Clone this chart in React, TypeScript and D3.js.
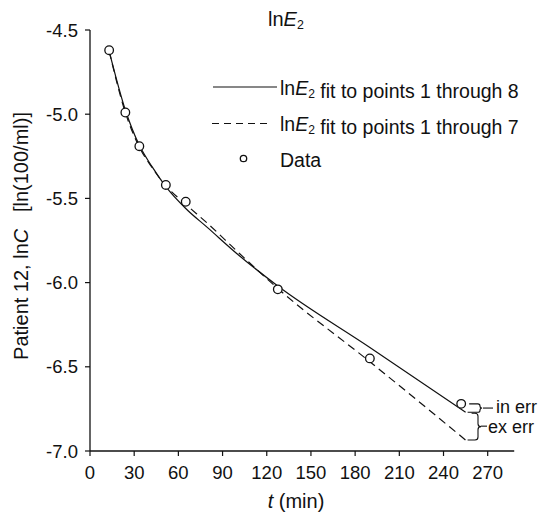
import React from "react";
import * as d3 from "d3";

const dataT = [13, 24, 33.5, 51.5, 65, 127.5, 190, 252];
const dataY = [-4.62, -4.99, -5.19, -5.42, -5.52, -6.04, -6.45, -6.72];

const fitT = [13, 24, 33.5, 42, 51.5, 65, 80, 100, 127.5, 190, 255];
const fit8Y = [-4.625, -4.975, -5.185, -5.31, -5.43, -5.56, -5.675, -5.83, -6.02, -6.385, -6.77];
const fit7Y = [-4.625, -4.99, -5.195, -5.315, -5.425, -5.535, -5.65, -5.815, -6.035, -6.47, -6.935];

const xTicks = [0, 30, 60, 90, 120, 150, 180, 210, 240, 270];
const yTicks = [-4.5, -5.0, -5.5, -6.0, -6.5, -7.0];

const FONT = "'Liberation Sans', Arial, Helvetica, sans-serif";

export default function App() {
  const W = 546, H = 512;
  const x = d3.scaleLinear().domain([0, 270]).range([90, 487.7]);
  const y = d3.scaleLinear().domain([-7, -4.5]).range([451, 30]);
  const xEnd = x(288);

  const line = d3
    .line<number>()
    .x((_, i) => x(fitT[i]))
    .y((d) => y(d))
    .curve(d3.curveMonotoneX);

  const lastP = { x: x(dataT[7]), y: y(dataY[7]) };
  const end8 = { x: x(fitT[fitT.length - 1]), y: y(fit8Y[fit8Y.length - 1]) };
  const end7 = { x: x(fitT[fitT.length - 1]), y: y(fit7Y[fit7Y.length - 1]) };

  // curly brace opening to the left, tip to the right
  const brace = (xl1: number, y1: number, xl2: number, y2: number, xv: number) => {
    const ym = (y1 + y2) / 2;
    const r = Math.min(3, (y2 - y1) / 4);
    return `M${xl1},${y1} H${xv - r} Q${xv},${y1} ${xv},${y1 + r} V${ym - r} Q${xv},${ym} ${xv + r},${ym} Q${xv},${ym} ${xv},${ym + r} V${y2 - r} Q${xv},${y2} ${xv - r},${y2} H${xl2}`;
  };
  const inMid = (lastP.y + end8.y) / 2;
  const exMid = (end8.y + end7.y) / 2;

  const sub = (base: string, it: string, s: string, size: number) => (
    <>
      {base}
      <tspan fontStyle="italic">{it}</tspan>
      <tspan fontSize={size * 0.62} dy={3}>{s}</tspan>
      <tspan dy={-3}></tspan>
    </>
  );

  return (
    <svg
      width={W}
      height={H}
      style={{ position: "absolute", left: 0, top: 0, background: "#fff" }}
      fontFamily={FONT}
    >
      <rect x={0} y={0} width={W} height={H} fill="#fff" />
      {/* axes */}
      <line x1={90} x2={90} y1={y(-4.5)} y2={y(-7)} stroke="#111" strokeWidth={1.3} />
      <line x1={90} x2={xEnd} y1={y(-7)} y2={y(-7)} stroke="#111" strokeWidth={1.3} />
      {xTicks.map((t) => (
        <g key={t}>
          <line x1={x(t)} x2={x(t)} y1={y(-7)} y2={y(-7) + 5} stroke="#111" strokeWidth={1.2} />
          <text x={x(t)} y={479} textAnchor="middle" fontSize={18.5} fill="#111">
            {t}
          </text>
        </g>
      ))}
      {yTicks.map((v) => (
        <g key={v}>
          <line x1={85} x2={90} y1={y(v)} y2={y(v)} stroke="#111" strokeWidth={1.2} />
          <text x={78} y={y(v) + 6.5} textAnchor="end" fontSize={18.5} fill="#111">
            {v.toFixed(1)}
          </text>
        </g>
      ))}
      {/* axis titles */}
      <text x={296} y={508} textAnchor="middle" fontSize={20} fill="#111">
        <tspan fontStyle="italic">t</tspan> (min)
      </text>
      <text
        transform={`translate(28,236) rotate(-90)`}
        textAnchor="middle"
        fontSize={20}
        fill="#111"
        xmlSpace="preserve"
      >
        Patient 12, ln<tspan fontStyle="italic">C</tspan>{"   "}[ln(100/ml)]
      </text>
      {/* title */}
      <text x={268} y={26} fontSize={20} fill="#111">
        {sub("ln", "E", "2", 20)}
      </text>
      {/* fits */}
      <path d={line(fit8Y) || ""} fill="none" stroke="#111" strokeWidth={1.2} />
      <path d={line(fit7Y) || ""} fill="none" stroke="#111" strokeWidth={1.2} strokeDasharray="8,5" />
      {/* data */}
      {dataT.map((t, i) => (
        <circle key={i} cx={x(t)} cy={y(dataY[i])} r={4.3} fill="#fff" stroke="#111" strokeWidth={1.3} />
      ))}
      {/* legend */}
      <line x1={213} x2={277} y1={87} y2={87} stroke="#111" strokeWidth={1.2} />
      <text x={280} y={95} fontSize={19.5} fill="#111">
        {sub("ln", "E", "2", 19.5)} fit to points 1 through 8
      </text>
      <line x1={212} x2={270} y1={123.5} y2={123.5} stroke="#111" strokeWidth={1.2} strokeDasharray="7,5" />
      <text x={280} y={131} fontSize={19.5} fill="#111">
        {sub("ln", "E", "2", 19.5)} fit to points 1 through 7
      </text>
      <circle cx={243.5} cy={158.5} r={3.2} fill="#fff" stroke="#111" strokeWidth={1.3} />
      <text x={280} y={166.5} fontSize={19.5} fill="#111">
        Data
      </text>
      {/* error braces */}
      <path d={brace(lastP.x + 8, lastP.y, end8.x + 2, end8.y, 480)} fill="none" stroke="#111" strokeWidth={1.1} />
      <line x1={483} x2={493} y1={inMid} y2={inMid} stroke="#111" strokeWidth={1.1} />
      <text x={496} y={inMid + 5} fontSize={18} fill="#111">
        in err
      </text>
      <path d={brace(end8.x + 6, end8.y + 1, end7.x + 2, end7.y, 478)} fill="none" stroke="#111" strokeWidth={1.1} />
      <line x1={481} x2={487} y1={exMid} y2={exMid} stroke="#111" strokeWidth={1.1} />
      <text x={488} y={exMid + 7} fontSize={18} fill="#111">
        ex err
      </text>
    </svg>
  );
}
